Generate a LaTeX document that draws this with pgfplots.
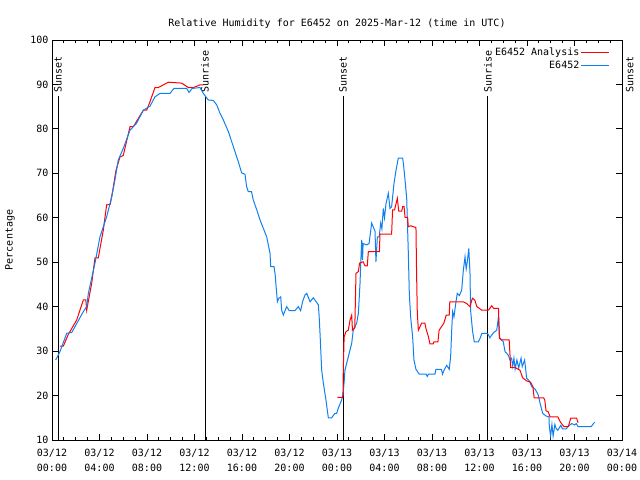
\documentclass[border=0pt]{standalone}
\usepackage{fontspec}
\setmainfont{DejaVu Sans Mono}
\setmonofont{DejaVu Sans Mono}
\usepackage{pgfplots}
\pgfplotsset{compat=1.18}
\definecolor{obsblue}{RGB}{16,128,240}
\begin{document}
\begin{tikzpicture}
\begin{axis}[
  scale only axis, width=570pt, height=400pt,
  xmin=0, xmax=48, ymin=10, ymax=100,
  xtick={0,4,...,48},
  xticklabels={03/12\\00:00,03/12\\04:00,03/12\\08:00,03/12\\12:00,03/12\\16:00,03/12\\20:00,03/13\\00:00,03/13\\04:00,03/13\\08:00,03/13\\12:00,03/13\\16:00,03/13\\20:00,03/14\\00:00},
  x tick label style={align=center, font=\fontsize{10}{15}\selectfont, yshift=-6pt},
  minor x tick num=3,
  ytick={10,20,...,100},
  y tick label style={font=\fontsize{10}{12}\selectfont},
  /pgf/number format/assume math mode=true,
  major tick length=6pt, minor tick length=3pt,
  tick style={black, line width=0.8pt},
  axis line style={line width=0.8pt},
  ylabel={Percentage},
  ylabel style={at={(-0.0737,0.5)}, anchor=center, font=\fontsize{10}{12}\selectfont},
  clip=false,
  legend style={draw=none, fill=none, at={(0.979,0.985)}, anchor=north east,
    font=\fontsize{10}{12}\selectfont, inner sep=0pt, row sep=1pt,
    nodes={inner sep=1.5pt}},
  legend cell align=right,
  legend plot pos=right,
  legend image code/.code={\draw[#1] (0pt,0pt) -- (28pt,0pt);},
]
\node[font=\fontsize{10}{12}\selectfont] at (rel axis cs:0.5,1.04) {Relative Humidity for E6452 on 2025-Mar-12 (time in UTC)};
% sunrise / sunset lines
\addplot[black, line width=0.8pt, forget plot] coordinates {(0.5,10) (0.5,87.3)};
\addplot[black, line width=0.8pt, forget plot] coordinates {(12.88,10) (12.88,87.3)};
\addplot[black, line width=0.8pt, forget plot] coordinates {(24.5,10) (24.5,87.3)};
\addplot[black, line width=0.8pt, forget plot] coordinates {(36.7,10) (36.7,87.3)};
\node[rotate=90, anchor=west, inner sep=0pt, font=\fontsize{10}{12}\selectfont] at (axis cs:0.5,88.1) {Sunset};
\node[rotate=90, anchor=west, inner sep=0pt, font=\fontsize{10}{12}\selectfont] at (axis cs:12.88,88.1) {Sunrise};
\node[rotate=90, anchor=west, inner sep=0pt, font=\fontsize{10}{12}\selectfont] at (axis cs:24.5,88.1) {Sunset};
\node[rotate=90, anchor=west, inner sep=0pt, font=\fontsize{10}{12}\selectfont] at (axis cs:36.7,88.1) {Sunrise};
\node[rotate=90, anchor=west, inner sep=0pt, font=\fontsize{10}{12}\selectfont] at (axis cs:48.65,88.1) {Sunset};

% Analysis (red)
\addplot[red, line width=1pt] coordinates {
(0.67,31.1) (0.95,31.1) (1.38,33.8) (2.08,37) (2.64,41.5) (2.85,41.5) (2.92,39.2)
(3.34,45.2) (3.62,51) (3.9,51) (4.32,57.2) (4.6,62.9) (4.9,63) (5.1,65.9)
(5.39,70.7) (5.73,73.7) (6.0,74) (6.57,80.5) (6.85,80.5) (7.69,84.2) (7.97,84.2)
(8.25,86.1) (8.67,89.3) (8.95,89.3) (9.8,90.5) (10.92,90.3) (11.48,89.3) (11.9,89.3)
(12.2,89.6) (12.46,89.9) (12.75,89.9)
};
\addlegendentry{E6452 Analysis}
\addplot[obsblue, line width=1pt] coordinates {
(0.31,28) (0.67,29.9) (1.24,34) (1.66,34.2) (2.02,35.9) (2.64,38.9) (2.92,40)
(3.06,43) (3.62,49.8) (4.04,55.7) (4.6,60.2) (5.03,64.7) (5.3,68.5) (5.58,73)
(6.0,75.6) (6.57,79.7) (7.13,81.3) (7.69,84.2) (8.25,85.1) (8.67,87.2) (9.1,88)
(9.94,88) (10.27,89.1) (11.34,89.1) (11.54,88.2) (11.8,89.1) (12.46,89.3) (12.74,88)
(13.16,86.5) (13.58,86.4) (13.87,85.4) (14.15,83.5) (14.43,82) (14.85,79.4) (15.27,76)
(15.69,72.6) (15.97,70.1) (16.25,69.8) (16.39,67) (16.53,65.9) (16.8,65.9) (16.95,64)
(17.24,61.8) (17.52,59.5) (17.8,57.6) (18.08,55.7) (18.36,52) (18.42,49) (18.7,49)
(18.8,47) (18.92,43) (18.98,41.1) (19.1,41.9) (19.26,42.2) (19.34,39.2) (19.48,38.1)
(19.76,40) (19.98,39.1) (20.46,39.1) (20.74,40) (20.94,39.1) (21.1,41.1) (21.3,42.6)
(21.45,43) (21.73,41.1) (22.0,42) (22.3,40.9) (22.43,40.4) (22.5,37.7) (22.57,34)
(22.71,25.7) (22.85,22.8) (23.07,19) (23.27,15) (23.55,15) (23.83,16) (23.97,16)
(24.1,17.1) (24.39,19) (24.5,20) (24.6,23) (24.67,25.7) (24.95,28.7) (25.24,31.8)
(25.37,34.7) (25.66,36.3) (25.8,38.5) (25.94,45.3) (26.0,49.8) (26.08,55) (26.15,50.5)
(26.2,54.2) (26.5,53.9) (26.7,54.2) (26.92,58.8) (27.2,57) (27.28,50.1) (27.4,55.7)
(27.55,55.7) (27.68,58.8) (27.78,57.5) (27.9,62.1) (28.0,60) (28.13,63.2) (28.32,65.5)
(28.46,62.1) (28.6,62.5) (28.8,67.7) (28.97,70.7) (29.16,73.4) (29.53,73.4) (29.6,72)
(29.73,68.5) (29.87,64.4) (30.0,52.7) (30.09,43) (30.2,37.7) (30.37,33.2) (30.48,28)
(30.65,25.9) (30.93,24.8) (31.5,24.8) (31.6,24.3) (31.7,24.8) (32.25,24.8) (32.33,25.9)
(32.8,25.9) (32.88,24.8) (33.05,25.9) (33.24,26.8) (33.45,25.9) (33.57,28.7) (33.66,34.7)
(33.74,38.9) (33.85,37.7) (34.02,41.1) (34.13,43) (34.3,42.5) (34.5,43.7) (34.64,48.2)
(34.78,51.2) (34.88,48.5) (34.97,50.1) (35.1,53.1) (35.2,47.5) (35.25,39.2) (35.42,34.4)
(35.56,32.1) (35.9,32.1) (36.04,32.8) (36.2,34) (36.6,34) (36.73,33.8) (36.87,33)
(37.0,33.5) (37.2,34.2) (37.45,34.7) (37.6,37.7) (37.7,33) (38.0,32.1) (38.15,29.9)
(38.42,29.1) (38.57,28) (38.7,28.4) (38.8,26.6) (38.9,28.4) (39.0,26) (39.15,28)
(39.3,26.2) (39.5,28.4) (39.6,26.5) (39.8,28) (39.97,23.9) (40.2,23.3) (40.4,22)
(40.7,21.4) (40.95,20.1) (41.1,18.3) (41.32,16) (41.6,15.4) (41.85,15.2) (41.88,13)
(41.99,10.9) (42.1,13.5) (42.2,10.9) (42.35,13.5) (42.45,12.6) (42.6,12.2) (42.85,13.3)
(43.0,12.5) (43.3,12.5) (43.45,13) (43.76,13.7) (44.0,13.4) (44.15,13.7) (44.3,13)
(44.6,13) (45.4,13) (45.6,13.7) (45.7,14)
};
\addlegendentry{E6452}
\addplot[red, line width=1pt, forget plot] coordinates {
(24.03,19.6) (24.5,19.6) (24.53,25.7) (24.6,33.2) (24.76,34.4) (24.95,34.7) (25.1,37)
(25.24,38.1) (25.3,34.7) (25.5,35.3) (25.6,47.5) (25.8,47.9) (25.9,49.8) (26.2,50.1)
(26.36,49.2) (26.55,49.2) (26.64,52.4) (27.57,52.4) (27.62,56.3) (28.6,56.3) (28.68,61.8)
(28.85,61.8) (29.08,64.4) (29.2,61.5) (29.45,61.5) (29.53,62.5) (29.65,62.5) (29.73,60.1)
(29.95,60.1) (30.0,58) (30.2,58.2) (30.65,57.8) (30.7,47.9) (30.76,38.9) (30.85,34.7)
(31.13,36.3) (31.4,36.3) (31.5,35) (31.7,33.2) (31.83,31.6) (32.1,31.6) (32.16,32.1)
(32.5,32.1) (32.6,34.7) (33.0,36.3) (33.2,38.1) (33.45,38.1) (33.5,41.1) (34.64,41.1)
(34.92,40.7) (35.2,40) (35.4,41.9) (35.6,41.5) (35.78,40) (36.2,39.2) (36.75,39.2)
(37.03,40.2) (37.2,39.6) (37.6,39.6) (37.67,32.9) (37.85,32.5) (38.5,32.5) (38.57,29.1)
(38.62,26.3) (39.0,26.3) (39.41,25.7) (39.63,24) (39.97,23.3) (40.3,23) (40.5,22)
(40.6,19.5) (41.4,19.5) (41.5,19) (41.6,16.6) (41.8,16.3) (41.94,15.2) (42.6,15.2)
(42.8,14.1) (43.1,13) (43.48,13) (43.68,14.9) (44.18,14.9) (44.3,13.9)
};
\coordinate (bbl) at (rel axis cs:-0.09123,-0.1);
\coordinate (btr) at (rel axis cs:1.03158,1.1);
\end{axis}
\pgfresetboundingbox
\path[use as bounding box] (bbl) rectangle (btr);
\end{tikzpicture}
\end{document}
